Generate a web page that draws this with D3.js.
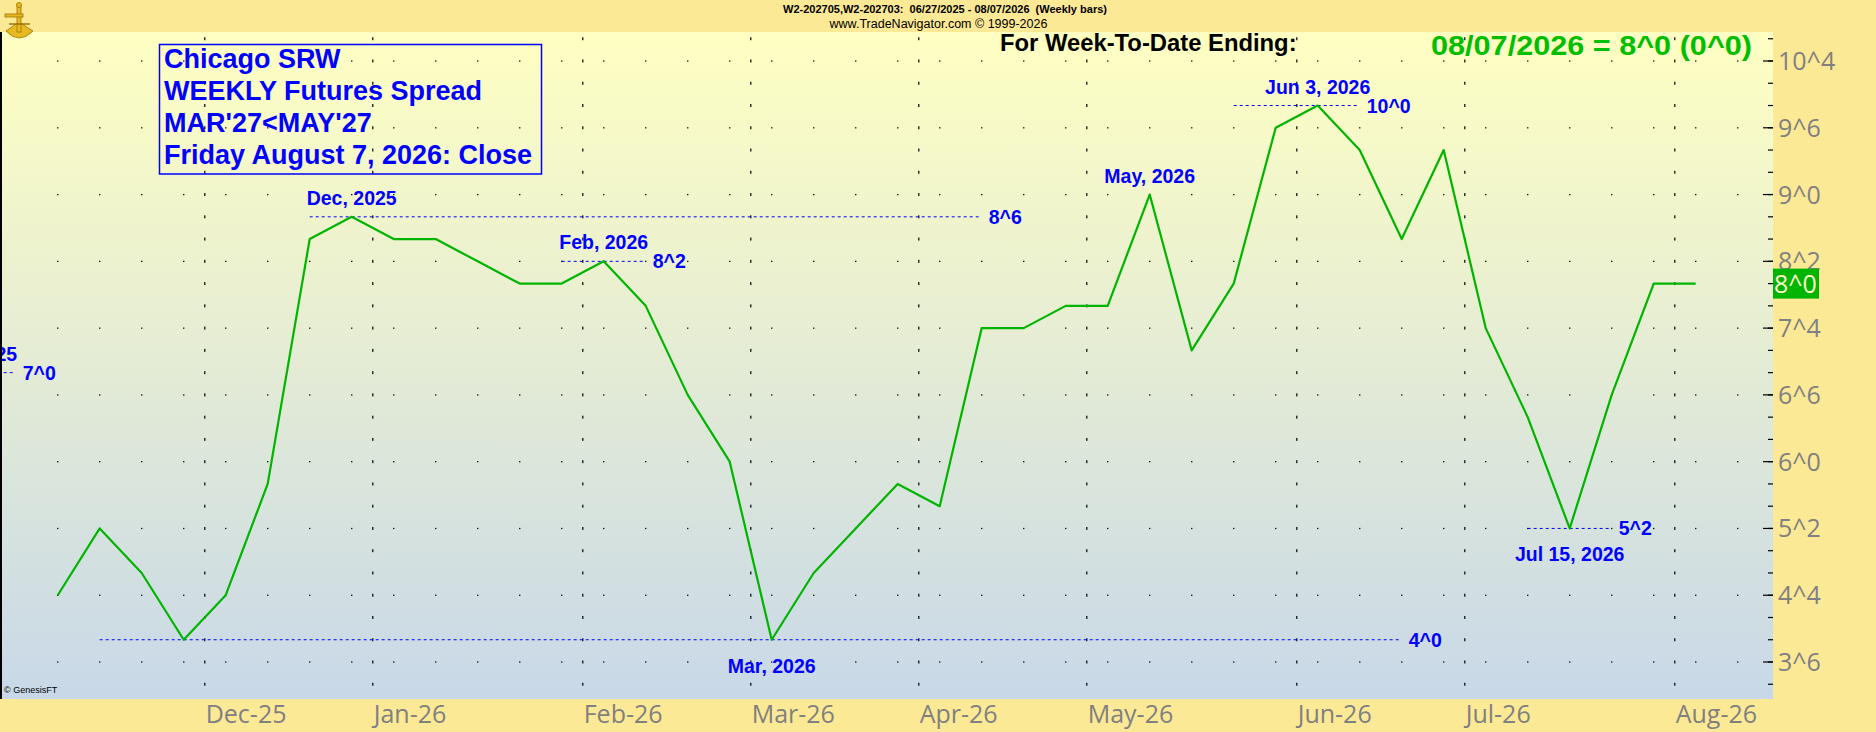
<!DOCTYPE html>
<html>
<head>
<meta charset="utf-8">
<title>Chicago SRW weekly spread</title>
<script src="https://cdn.jsdelivr.net/npm/d3@7"></script>
<style>
  body { margin: 0; background: #fce996; }
  svg { display: block; }
  .hdr { font-family: "Liberation Sans", Arial, sans-serif; white-space: pre; }
  .axis-lbl { font-family: "Open Sans", sans-serif; font-size: 25px; fill: #808080; }
  .note { font: bold 19.5px "Liberation Sans", Arial, sans-serif; fill: #0000ff; }
  .title { font: bold 27px "Liberation Sans", Arial, sans-serif; fill: #0000ff; }
</style>
</head>
<body>
<svg id="chart" width="1876" height="732"></svg>
<script>
// weekly bars (Friday close), spread MAR'27 - MAY'27, in cents^eighths
var weekEnding = [
  "2025-11-07", "2025-11-14", "2025-11-21", "2025-11-28",
  "2025-12-05", "2025-12-12", "2025-12-19", "2025-12-26",
  "2026-01-02", "2026-01-09", "2026-01-16", "2026-01-23", "2026-01-30",
  "2026-02-06", "2026-02-13", "2026-02-20", "2026-02-27",
  "2026-03-06", "2026-03-13", "2026-03-20", "2026-03-27",
  "2026-04-03", "2026-04-10", "2026-04-17", "2026-04-24",
  "2026-05-01", "2026-05-08", "2026-05-15", "2026-05-22", "2026-05-29",
  "2026-06-05", "2026-06-12", "2026-06-19", "2026-06-26",
  "2026-07-03", "2026-07-10", "2026-07-17", "2026-07-24", "2026-07-31",
  "2026-08-07"
];
var closes = [
  4.5, 5.25, 4.75, 4.0,
  4.5, 5.75, 8.5, 8.75,
  8.5, 8.5, 8.25, 8.0, 8.0,
  8.25, 7.75, 6.75, 6.0,
  4.0, 4.75, 5.25, 5.75,
  5.5, 7.5, 7.5, 7.75,
  7.75, 9.0, 7.25, 8.0, 9.75,
  10.0, 9.5, 8.5, 9.5,
  7.5, 6.5, 5.25, 6.75, 8.0,
  8.0
];
var yTicks = [3.75, 4.5, 5.25, 6.0, 6.75, 7.5, 8.25, 9.0, 9.75, 10.5];

// high/low call-outs: bar index, level, date text, side, dotted line span (bar indices)
var noteBar   = [-2, 7, 13, 17, 26, 30, 36];
var noteLevel = [7.0, 8.75, 8.25, 4.0, 9.0, 10.0, 5.25];
var noteText  = ["Oct, 2025", "Dec, 2025", "Feb, 2026", "Mar, 2026", "May, 2026", "Jun 3, 2026", "Jul 15, 2026"];
var noteSide  = ["above", "above", "above", "below", "above", "above", "below"];
var noteSpan  = [[-3, -1], [6, 22], [12, 14], [1, 32], null, [28, 31], [35, 37]];

var titleLines = ["Chicago SRW", "WEEKLY Futures Spread", "MAR'27<MAY'27", "Friday August 7, 2026: Close"];

function eighths(v) {
  var w = Math.floor(v + 1e-9);
  return w + "^" + Math.round((v - w) * 8);
}

var svg = d3.select("#chart");
var band = "#fce996";
var plot = {left: 0, top: 32, right: 1773, bottom: 699};

var x = d3.scaleLinear().domain([0, closes.length - 1]).range([57.7, 1695.7]);
var y = d3.scaleLinear().domain([3.75, 10.5]).range([662, 61]);

var parse = d3.timeParse("%Y-%m-%d");
var dates = weekEnding.map(parse);

var defs = svg.append("defs");
var grad = defs.append("linearGradient").attr("id", "bg")
    .attr("x1", 0).attr("y1", 0).attr("x2", 0).attr("y2", 1);
grad.append("stop").attr("offset", "0%").attr("stop-color", "#ffffc2");
grad.append("stop").attr("offset", "100%").attr("stop-color", "#c8d8e8");
defs.append("clipPath").attr("id", "clip").append("rect")
    .attr("x", plot.left).attr("y", plot.top)
    .attr("width", plot.right - plot.left).attr("height", plot.bottom - plot.top);

svg.append("rect").attr("width", 1876).attr("height", 732).attr("fill", band);
svg.append("rect")
    .attr("x", plot.left).attr("y", plot.top)
    .attr("width", plot.right - plot.left).attr("height", plot.bottom - plot.top)
    .attr("fill", "url(#bg)");

var g = svg.append("g").attr("clip-path", "url(#clip)");

// dotted grid: rows at major levels, dot at each week slot
var slots = d3.range(0, closes.length + 1);
yTicks.forEach(function(v) {
  g.selectAll(null).data(slots).enter().append("rect")
      .attr("x", d => x(d) - 0.6).attr("y", y(v) - 0.6)
      .attr("width", 1.3).attr("height", 1.3).attr("fill", "#000");
});

// month boundaries
var monthStarts = d3.range(1, dates.length)
    .filter(i => dates[i].getMonth() !== dates[i - 1].getMonth());
var minorLevels = d3.range(3.5, 10.8, 0.25);
monthStarts.forEach(function(i) {
  g.selectAll(null).data(minorLevels).enter().append("rect")
      .attr("x", x(i - 0.5) - 0.5).attr("y", d => y(d) - 1.5)
      .attr("width", 1.2).attr("height", 3).attr("fill", "#000");
});

// call-outs
noteBar.forEach(function(b, k) {
  var lv = noteLevel[k], yy = y(lv);
  if (noteSpan[k]) {
    g.append("line")
        .attr("x1", x(noteSpan[k][0])).attr("x2", x(noteSpan[k][1]))
        .attr("y1", yy).attr("y2", yy)
        .attr("stroke", "#0000ff").attr("stroke-width", 1)
        .attr("stroke-dasharray", "3,3");
    g.append("text").attr("class", "note")
        .attr("x", x(noteSpan[k][1]) + 7).attr("y", yy + 7)
        .text(eighths(lv));
  }
  g.append("text").attr("class", "note")
      .attr("text-anchor", "middle")
      .attr("x", x(b))
      .attr("y", noteSide[k] === "above" ? yy - 12 : yy + 33)
      .text(noteText[k]);
});

// the spread line
g.append("path")
    .datum(closes)
    .attr("fill", "none")
    .attr("stroke", "#00b400")
    .attr("stroke-width", 2.2)
    .attr("stroke-linejoin", "round")
    .attr("d", d3.line().x((d, i) => x(i)).y(d => y(d)));

// title box
var tb = svg.append("g");
tb.append("rect").attr("x", 159.5).attr("y", 44.5).attr("width", 382).attr("height", 129.5)
    .attr("fill", "none").attr("stroke", "#0000ff").attr("stroke-width", 1.5);
tb.selectAll("text").data(titleLines).enter().append("text")
    .attr("class", "title")
    .attr("x", 164).attr("y", (d, i) => 68 + i * 32)
    .text(d => d);

// bands around the plot
svg.append("rect").attr("x", plot.right).attr("y", 0)
    .attr("width", 1876 - plot.right).attr("height", 732).attr("fill", band);
svg.append("rect").attr("x", 0).attr("y", plot.bottom)
    .attr("width", 1876).attr("height", 732 - plot.bottom).attr("fill", band);
svg.append("rect").attr("x", 0).attr("y", 0)
    .attr("width", 1876).attr("height", plot.top).attr("fill", band);

// right price axis
var ax = svg.append("g");
ax.selectAll(".minor").data(d3.range(3.5, 10.8, 0.25)).enter().append("line")
    .attr("x1", plot.right - 5).attr("x2", plot.right)
    .attr("y1", d => y(d)).attr("y2", d => y(d))
    .attr("stroke", "#000").attr("stroke-width", 1.2);
ax.selectAll(".major").data(yTicks).enter().append("line")
    .attr("x1", plot.right - 10).attr("x2", plot.right)
    .attr("y1", d => y(d)).attr("y2", d => y(d))
    .attr("stroke", "#000").attr("stroke-width", 1.2);
ax.selectAll("text").data(yTicks).enter().append("text")
    .attr("class", "axis-lbl")
    .attr("x", plot.right + 5).attr("y", d => y(d) + 9)
    .text(eighths);

// last value marker
var last = closes[closes.length - 1];
svg.append("rect").attr("x", plot.right).attr("y", y(last) - 15)
    .attr("width", 46).attr("height", 30).attr("fill", "#00b400");
svg.append("text").attr("class", "axis-lbl")
    .attr("x", plot.right + 1).attr("y", y(last) + 9)
    .style("fill", "#ffffcc")
    .text(eighths(last));

// month axis
var fmtMonth = d3.timeFormat("%b-%y");
svg.selectAll(".mlbl").data(monthStarts).enter().append("text")
    .attr("class", "axis-lbl")
    .attr("x", i => x(i - 0.5) + 1).attr("y", 723)
    .text(i => fmtMonth(dates[i]));

// header
svg.append("text").attr("class", "hdr")
    .attr("x", 945).attr("y", 12.5).attr("text-anchor", "middle")
    .style("font-weight", "bold").style("font-size", "11px")
    .text("W2-202705,W2-202703:  06/27/2025 - 08/07/2026  (Weekly bars)");
svg.append("text").attr("class", "hdr")
    .attr("x", 938.5).attr("y", 28).attr("text-anchor", "middle")
    .style("font-size", "12.5px")
    .text("www.TradeNavigator.com \u00a9 1999-2026");
svg.append("text").attr("class", "hdr")
    .attr("x", 1000).attr("y", 50.5)
    .style("font-weight", "bold").style("font-size", "23.8px")
    .text("For Week-To-Date Ending:");

var fmtDay = d3.timeFormat("%m/%d/%Y");
var change = last - closes[closes.length - 2];
svg.append("text").attr("class", "hdr")
    .attr("x", 1431).attr("y", 54.5)
    .attr("textLength", 321).attr("lengthAdjust", "spacingAndGlyphs")
    .style("font-weight", "bold").style("font-size", "28px").style("fill", "#00bf00")
    .text(fmtDay(dates[dates.length - 1]) + " = " + eighths(last) + " (" + eighths(change) + ")");

svg.append("text").attr("class", "hdr")
    .attr("x", 4).attr("y", 693).style("font-size", "9px")
    .text("\u00a9 GenesisFT");

// left border
svg.append("rect").attr("x", 0).attr("y", plot.top)
    .attr("width", 2).attr("height", plot.bottom - plot.top).attr("fill", "#000");

// logo
var logo = svg.append("g").attr("fill", "#e8b923").attr("stroke", "#9c7400").attr("stroke-width", 0.8);
logo.append("path").attr("d", "M6,31 Q19,45 33,31 L19,22 Z");
logo.append("rect").attr("x", 17).attr("y", 5).attr("width", 4).attr("height", 27);
logo.append("rect").attr("x", 5).attr("y", 14).attr("width", 18).attr("height", 3);
logo.append("circle").attr("cx", 19).attr("cy", 5).attr("r", 2.5);
logo.append("path").attr("d", "M9,24 L30,24").attr("stroke-width", 1.5);
</script>
</body>
</html>
